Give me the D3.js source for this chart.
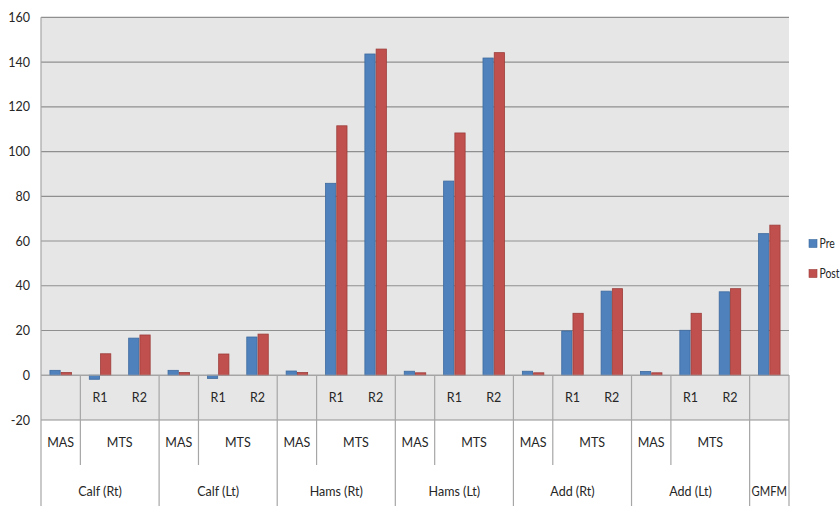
<!DOCTYPE html>
<html>
<head>
<meta charset="utf-8">
<script src="https://cdn.jsdelivr.net/npm/d3@7"></script>
<style>
  html, body { margin: 0; padding: 0; background: #fff; }
  svg text { font-family: Lato, "Open Sans", sans-serif; fill: #262626; }
</style>
</head>
<body>
<svg id="chart" width="840" height="506"></svg>
<script>
// Muscle groups, their measures, and the leaf categories under each
const groups = ["Calf (Rt)", "Calf (Lt)", "Hams (Rt)", "Hams (Lt)", "Add (Rt)", "Add (Lt)", "GMFM"];
const groupMeasures = [["MAS", "MTS"], ["MAS", "MTS"], ["MAS", "MTS"], ["MAS", "MTS"], ["MAS", "MTS"], ["MAS", "MTS"], []];
const leafLabels = ["", "R1", "R2", "", "R1", "R2", "", "R1", "R2", "", "R1", "R2", "", "R1", "R2", "", "R1", "R2", ""];
const leafGroup = [0, 0, 0, 1, 1, 1, 2, 2, 2, 3, 3, 3, 4, 4, 4, 5, 5, 5, 6];
const leafMeasure = ["MAS", "MTS", "MTS", "MAS", "MTS", "MTS", "MAS", "MTS", "MTS", "MAS", "MTS", "MTS", "MAS", "MTS", "MTS", "MAS", "MTS", "MTS", ""];

// Series values
const seriesNames = ["Pre", "Post"];
const preValues = [2.2, -1.8, 16.6, 2.2, -1.4, 17.1, 1.9, 85.8, 143.6, 1.8, 86.8, 141.8, 1.8, 19.8, 37.6, 1.7, 20.1, 37.3, 63.3];
const postValues = [1.2, 9.6, 18.0, 1.2, 9.5, 18.4, 1.2, 111.5, 145.8, 1.1, 108.3, 144.2, 1.1, 27.7, 38.7, 1.1, 27.7, 38.7, 67.1];
const yTicks = [-20, 0, 20, 40, 60, 80, 100, 120, 140, 160];

const colors = { Pre: "#4f81bd", Post: "#c0504d" };
const strokes = { Pre: "#3d6a9e", Post: "#9c3d3a" };
const fontSize = 12.5;

const svg = d3.select("#chart");
const plotLeft = 41, plotRight = 789, plotTop = 17.3, plotBottom = 420;
const row1 = 375, row2 = 420, row3 = 465, baseY = 506;

const leaves = d3.range(leafLabels.length);
const x = d3.scaleBand().domain(leaves).range([plotLeft, plotRight]).paddingInner(0).paddingOuter(0);
const xs = d3.scaleBand().domain(seriesNames).range([0, x.bandwidth()]).paddingInner(0).paddingOuter(0.75);
const y = d3.scaleLinear().domain([-20, 160]).range([plotBottom, plotTop]);

// Plot background
svg.append("rect").attr("x", plotLeft).attr("y", plotTop)
  .attr("width", plotRight - plotLeft).attr("height", plotBottom - plotTop).attr("fill", "#e6e6e6");

// Gridlines
svg.append("g").selectAll("line").data(yTicks).join("line")
  .attr("x1", plotLeft).attr("x2", plotRight)
  .attr("y1", d => y(d)).attr("y2", d => y(d))
  .attr("stroke", "#8f8f8f").attr("stroke-width", 1.2);

// Y axis labels (plain hyphen for negatives)
const yAxis = d3.axisLeft(y).tickValues(yTicks).tickFormat(d => String(d)).tickSize(0).tickPadding(11);
const gy = svg.append("g").attr("transform", `translate(${plotLeft},0)`).call(yAxis);
gy.select(".domain").remove();
gy.selectAll("text").attr("font-size", fontSize).style("font-family", "Lato, sans-serif").attr("fill", "#262626");

// Bars
const rows = leaves.map(i => ({ i, vals: [{ s: "Pre", v: preValues[i] }, { s: "Post", v: postValues[i] }] }));
const bars = svg.append("g").selectAll("g").data(rows).join("g")
  .attr("transform", d => `translate(${x(d.i)},0)`);
bars.selectAll("rect").data(d => d.vals).join("rect")
  .attr("x", d => xs(d.s) + 0.5)
  .attr("width", xs.bandwidth() - 1)
  .attr("y", d => y(Math.max(0, d.v)))
  .attr("height", d => Math.abs(y(d.v) - y(0)))
  .attr("fill", d => colors[d.s])
  .attr("stroke", d => strokes[d.s])
  .attr("stroke-width", 0.8);

// Axis lines and separators
const lineColor = "#a6a6a6";
const seg = (x1, y1, x2, y2) => svg.append("line").attr("x1", x1).attr("y1", y1).attr("x2", x2).attr("y2", y2)
  .attr("stroke", lineColor).attr("stroke-width", 1.2);
seg(plotLeft, plotTop, plotLeft, baseY);
seg(plotLeft, y(0), plotRight, y(0));

// Group boundaries (full height below the zero line)
const groupStart = groups.map((g, gi) => leaves.find(i => leafGroup[i] === gi));
const groupEnd = groups.map((g, gi) => leaves.filter(i => leafGroup[i] === gi).slice(-1)[0]);
groups.forEach((g, gi) => {
  const xe = x(groupEnd[gi]) + x.bandwidth();
  seg(xe, row1, xe, baseY);
});
// Measure boundaries (MAS | MTS)
leaves.forEach(i => {
  if (leafMeasure[i] === "MAS") {
    const xe = x(i) + x.bandwidth();
    seg(xe, row1, xe, row3);
  }
});

// Leaf labels (R1 / R2)
svg.append("g").selectAll("text").data(leaves.filter(i => leafLabels[i])).join("text")
  .attr("x", i => x(i) + x.bandwidth() / 2)
  .attr("y", (row1 + row2) / 2)
  .attr("dy", "0.35em").attr("text-anchor", "middle").attr("font-size", fontSize)
  .text(i => leafLabels[i]);

// Measure labels
const measureItems = [];
groups.forEach((g, gi) => {
  groupMeasures[gi].forEach(m => {
    const ls = leaves.filter(i => leafGroup[i] === gi && leafMeasure[i] === m);
    measureItems.push({ m, cx: (x(ls[0]) + x(ls[ls.length - 1]) + x.bandwidth()) / 2 });
  });
});
svg.append("g").selectAll("text").data(measureItems).join("text")
  .attr("x", d => d.cx).attr("y", (row2 + row3) / 2)
  .attr("dy", "0.35em").attr("text-anchor", "middle").attr("font-size", fontSize)
  .text(d => d.m);

// Group labels (the narrow GMFM cell gets a slightly condensed label)
const cond = 0.9;
svg.append("g").selectAll("text").data(groups).join("text")
  .attr("transform", g => g === "GMFM" ? `scale(${cond},1)` : null)
  .attr("x", (g, gi) => {
    const cx = (x(groupStart[gi]) + x(groupEnd[gi]) + x.bandwidth()) / 2;
    return g === "GMFM" ? cx / cond : cx;
  })
  .attr("y", 492)
  .attr("dy", "0.35em").attr("text-anchor", "middle").attr("font-size", fontSize)
  .text(g => g);

// Legend, placed at the right edge with condensed labels
const legendScale = 0.8;
const legend = svg.append("g").selectAll("g").data(seriesNames).join("g")
  .attr("transform", (d, i) => `translate(809,${239.5 + i * 30})`);
legend.append("rect").attr("width", 8).attr("height", 8)
  .attr("fill", d => colors[d]).attr("stroke", d => strokes[d]).attr("stroke-width", 0.6);
legend.append("text")
  .attr("transform", `scale(${legendScale},1)`)
  .attr("x", 10.5 / legendScale).attr("y", 4).attr("dy", "0.38em")
  .attr("font-size", 13).text(d => d);
</script>
</body>
</html>
